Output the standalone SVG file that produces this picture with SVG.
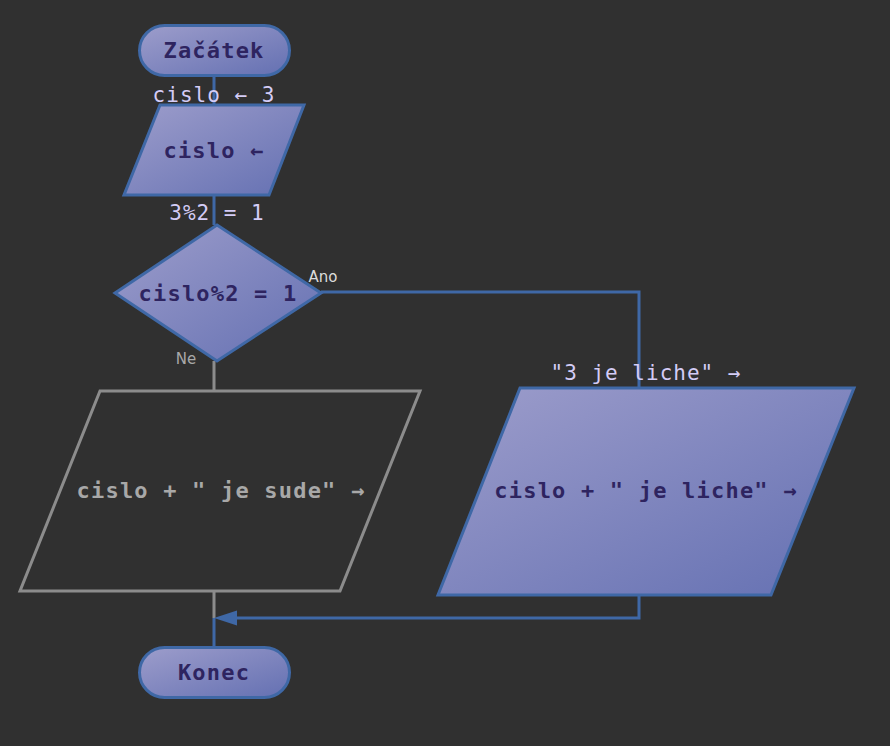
<svg xmlns="http://www.w3.org/2000/svg" width="890" height="746" viewBox="0 0 890 746">
<defs>
<linearGradient id="g" x1="0" y1="0" x2="1" y2="1">
<stop offset="0" stop-color="#9d9dcb"/>
<stop offset="1" stop-color="#6470b2"/>
</linearGradient>
<style>
.n{fill:url(#g);stroke:#3f68a6;stroke-width:3}
.gr{fill:none;stroke:#8c8c8c;stroke-width:3}
.t{font-family:"DejaVu Sans Mono",monospace;font-weight:bold;font-size:22px;letter-spacing:1.2px;fill:#2e2460;text-anchor:middle;dominant-baseline:central}
.tg{fill:#a8a8a8}
.l{font-family:"DejaVu Sans Mono",monospace;font-size:21px;letter-spacing:1px;fill:#d4ccf6;text-anchor:middle;dominant-baseline:central}
.s{font-family:"DejaVu Sans",sans-serif;font-size:15px;text-anchor:middle;dominant-baseline:central}
.c{fill:none;stroke:#3f68a6;stroke-width:3}
.cg{fill:none;stroke:#8c8c8c;stroke-width:3}
.ah{fill:#3f68a6}
</style>
</defs>
<rect width="890" height="746" fill="#303030"/>
<g id="connectors">
<path class="c" d="M214,75 V105"/>
<path class="c" d="M214,195 V225"/>
<path class="c" d="M321,292 H639 V388"/>
<path class="cg" d="M214,361 V391"/>
<path class="cg" d="M214,591 V618"/>
<path class="c" d="M214,618 V647"/>
<path class="c" d="M639,595 V618 H230"/>
<polygon class="ah" points="214,618 237,610.5 237,625.5"/>
</g>
<g id="start">
<rect class="n" x="139.5" y="25.5" width="150" height="50" rx="25"/>
<text class="t" x="214" y="50">Začátek</text>
</g>
<g id="input">
<polygon class="n" points="160,105 304,105 269,195 124,195"/>
<text class="t" x="214" y="150">cislo ←</text>
</g>
<g id="decision">
<polygon class="n" points="217,225 321,293 217,361 115,293"/>
<text class="t" x="218" y="293">cislo%2 = 1</text>
</g>
<g id="out-sude">
<polygon class="gr" points="100,391 420,391 340,591 20,591"/>
<text class="t tg" x="221" y="490">cislo + " je sude" →</text>
</g>
<g id="out-liche">
<polygon class="n" points="520,388 854,388 771,595 438,595"/>
<text class="t" x="646" y="490">cislo + " je liche" →</text>
</g>
<g id="end">
<rect class="n" x="139.5" y="647.5" width="150" height="50" rx="25"/>
<text class="t" x="214" y="672">Konec</text>
</g>
<g id="labels">
<text class="l" x="214" y="95">cislo ← 3</text>
<text class="l" x="217" y="213">3%2 = 1</text>
<text class="l" x="646" y="373">"3 je liche" →</text>
<text class="s" x="323" y="277" fill="#dcdcdc">Ano</text>
<text class="s" x="186" y="359" fill="#a8a8a8">Ne</text>
</g>
</svg>
